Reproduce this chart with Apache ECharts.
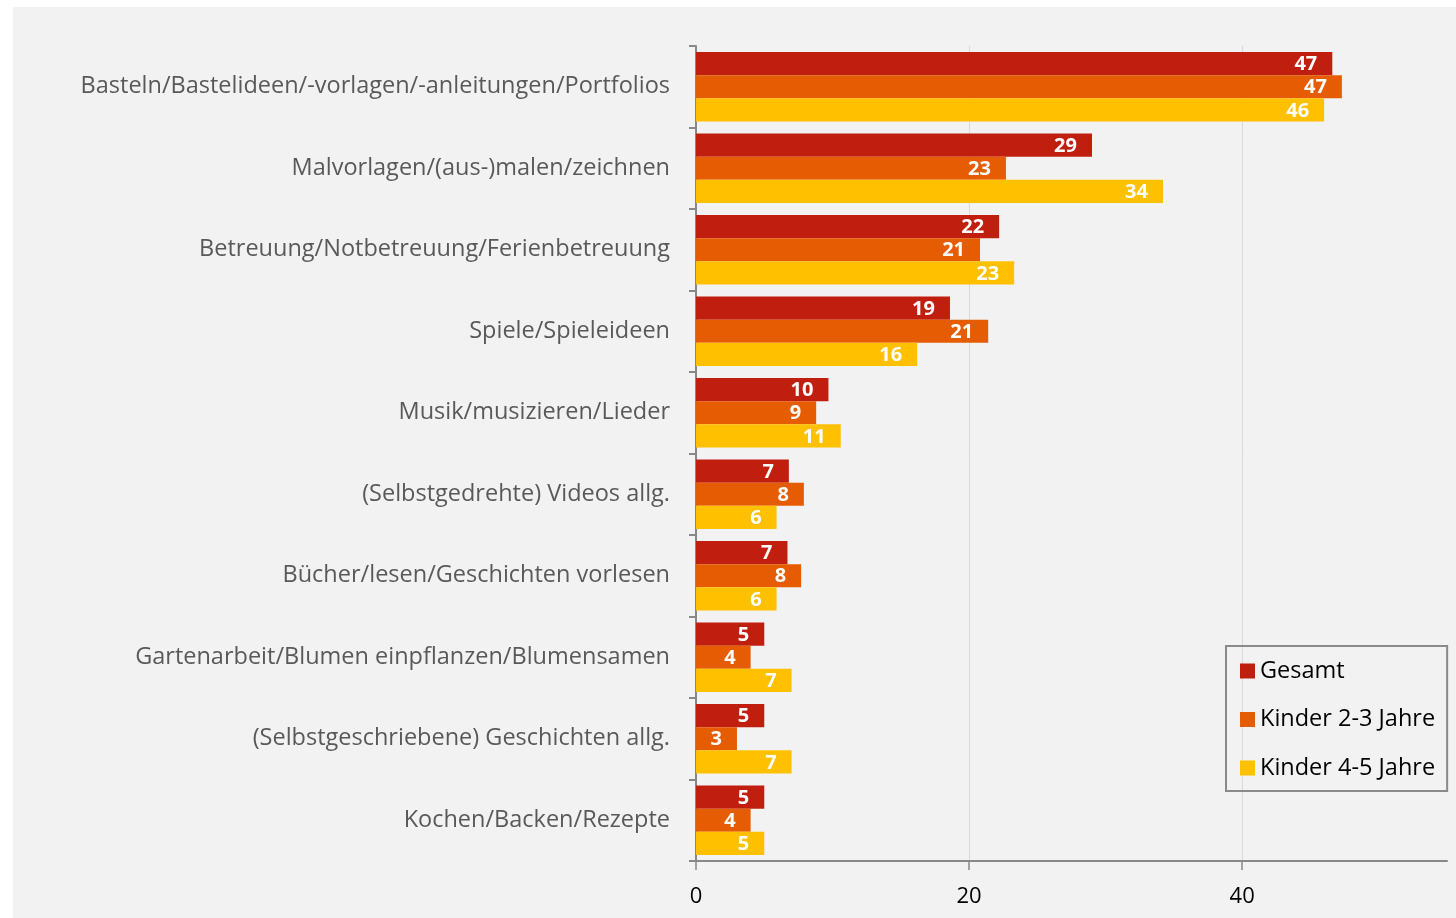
<!DOCTYPE html>
<html>
<head>
<meta charset="utf-8">
<script src="https://cdn.jsdelivr.net/npm/echarts@6/dist/echarts.min.js"></script>
<style>
  html, body { margin: 0; padding: 0; background: #ffffff; }
  #chart {
    position: absolute;
    left: 13px;
    top: 7px;
    width: 1443px;
    height: 911px;
    background: #f2f2f2;
  }
</style>
</head>
<body>
<div id="chart"></div>
<script>
  // Kategorien (oben nach unten)
  var categories = [
    'Basteln/Bastelideen/-vorlagen/-anleitungen/Portfolios',
    'Malvorlagen/(aus-)malen/zeichnen',
    'Betreuung/Notbetreuung/Ferienbetreuung',
    'Spiele/Spieleideen',
    'Musik/musizieren/Lieder',
    '(Selbstgedrehte) Videos allg.',
    'Bücher/lesen/Geschichten vorlesen',
    'Gartenarbeit/Blumen einpflanzen/Blumensamen',
    '(Selbstgeschriebene) Geschichten allg.',
    'Kochen/Backen/Rezepte'
  ];
  var seriesNames = ['Gesamt', 'Kinder 2-3 Jahre', 'Kinder 4-5 Jahre'];
  var gesamt = [46.6, 29.0, 22.2, 18.6, 9.7, 6.8, 6.7, 5.0, 5.0, 5.0];
  var kinder23 = [47.3, 22.7, 20.8, 21.4, 8.8, 7.9, 7.7, 4.0, 3.0, 4.0];
  var kinder45 = [46.0, 34.2, 23.3, 16.2, 10.6, 5.9, 5.9, 7.0, 7.0, 5.0];
  var xTicks = [0, 20, 40];

  var colors = ['#c01f10', '#e65c03', '#ffc000'];
  var font = 'Open Sans';

  var myChart = echarts.init(document.getElementById('chart'));

  function barSeries(name, data) {
    return {
      name: name,
      type: 'bar',
      data: data,
      barGap: '0%',
      barCategoryGap: '14.5%',
      label: {
        show: true,
        position: 'insideRight',
        distance: 15,
        offset: [0, 1],
        color: '#ffffff',
        fontFamily: font,
        fontWeight: 'bold',
        fontSize: 20,
        formatter: function (p) { return Math.round(p.value); }
      }
    };
  }

  myChart.setOption({
    animation: false,
    color: colors,
    grid: {
      left: 683,
      top: 39,
      right: 9,
      bottom: 57
    },
    legend: {
      data: seriesNames,
      orient: 'vertical',
      left: 1213,
      top: 639,
      icon: 'rect',
      itemWidth: 15,
      itemHeight: 15,
      itemGap: 24.5,
      padding: [13, 12, 11, 14],
      borderColor: '#8a8a8a',
      borderWidth: 2,
      textStyle: {
        color: '#000000',
        fontFamily: font,
        fontSize: 23.5,
        lineHeight: 22
      }
    },
    xAxis: {
      type: 'value',
      min: 0,
      max: 55,
      interval: 20,
      axisLine: { show: true, lineStyle: { color: '#888888', width: 2 } },
      axisTick: {
        show: true,
        length: 9,
        customValues: xTicks,
        lineStyle: { color: '#888888', width: 1.5 }
      },
      axisLabel: {
        customValues: xTicks,
        margin: 25,
        color: '#000000',
        fontFamily: font,
        fontSize: 22
      },
      splitLine: { show: true, lineStyle: { color: '#d9d9d9', width: 1 } }
    },
    yAxis: {
      type: 'category',
      inverse: true,
      data: categories,
      axisLine: { show: true, lineStyle: { color: '#888888', width: 2 } },
      axisTick: { show: true, length: 7, lineStyle: { color: '#888888', width: 2 } },
      axisLabel: {
        margin: 26,
        color: '#595959',
        fontFamily: font,
        fontSize: 23.5
      },
      splitLine: { show: false }
    },
    series: [
      barSeries(seriesNames[0], gesamt),
      barSeries(seriesNames[1], kinder23),
      barSeries(seriesNames[2], kinder45)
    ]
  });
</script>
</body>
</html>
